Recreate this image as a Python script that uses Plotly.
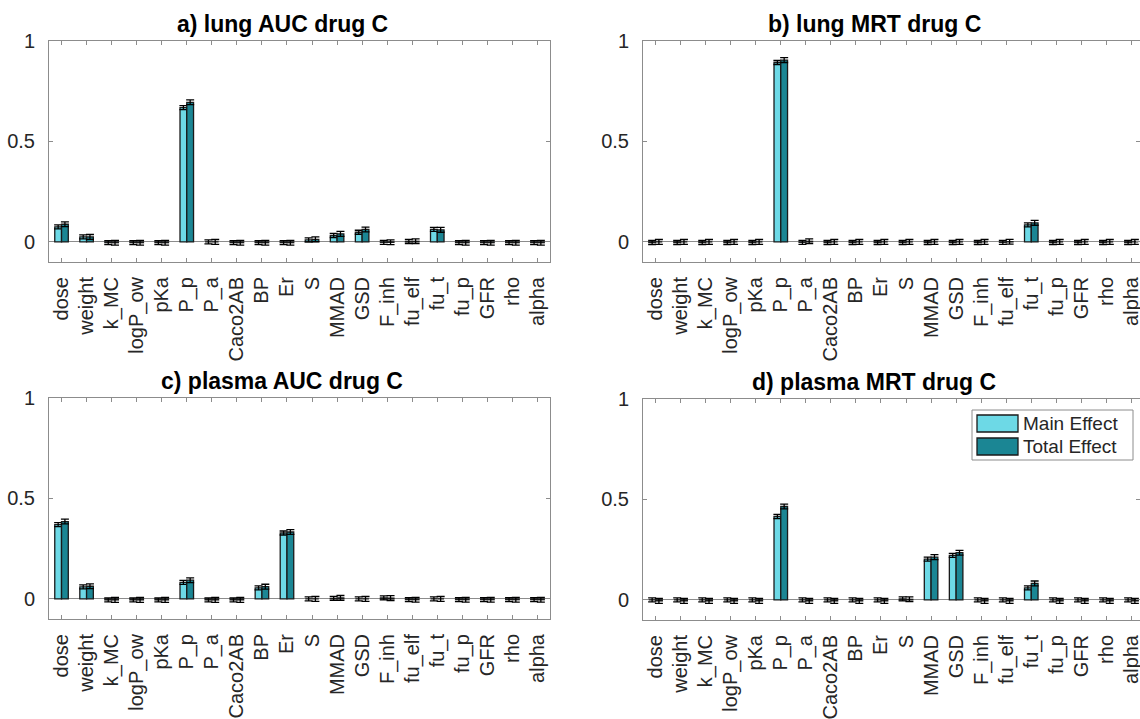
import plotly.graph_objects as go

params = ["dose", "weight", "k_MC", "logP_ow", "pKa", "P_p", "P_a", "Caco2AB", "BP", "Er",
          "S", "MMAD", "GSD", "F_inh", "fu_elf", "fu_t", "fu_p", "GFR", "rho", "alpha"]

titles = ["a) lung AUC drug C", "b) lung MRT drug C", "c) plasma AUC drug C", "d) plasma MRT drug C"]

# a) lung AUC
lung_auc_main = [0.075, 0.025, -0.004, -0.004, -0.004, 0.668, 0.0, -0.004, -0.004, -0.004,
                 0.010, 0.032, 0.048, -0.002, 0.002, 0.062, -0.004, -0.004, -0.004, -0.004]
lung_auc_total = [0.088, 0.025, -0.004, -0.004, -0.004, 0.695, 0.0, -0.004, -0.004, -0.004,
                  0.013, 0.040, 0.062, -0.002, 0.003, 0.060, -0.004, -0.004, -0.004, -0.004]
# b) lung MRT
lung_mrt_main = [-0.003, -0.003, -0.003, -0.003, -0.003, 0.893, -0.002, -0.003, -0.003, -0.003,
                 -0.003, -0.003, -0.003, -0.003, -0.002, 0.085, -0.003, -0.003, -0.003, -0.003]
lung_mrt_total = [0.0, 0.0, 0.0, 0.0, 0.0, 0.905, 0.003, 0.0, 0.0, 0.0,
                  0.0, 0.0, 0.0, 0.0, 0.001, 0.095, 0.0, 0.0, 0.0, 0.0]
# c) plasma AUC
plasma_auc_main = [0.370, 0.060, -0.005, -0.005, -0.005, 0.082, -0.005, -0.005, 0.055, 0.328,
                   0.0, 0.003, 0.0, 0.005, -0.004, 0.0, -0.004, -0.004, -0.004, -0.004]
plasma_auc_total = [0.385, 0.063, -0.005, -0.005, -0.005, 0.093, -0.005, -0.005, 0.061, 0.333,
                    0.0, 0.005, 0.0, 0.004, -0.004, 0.0, -0.004, -0.004, -0.004, -0.004]
# d) plasma MRT
plasma_mrt_main = [0.0, 0.0, 0.0, 0.0, 0.0, 0.415, 0.0, 0.0, 0.0, 0.0,
                   0.005, 0.203, 0.222, 0.0, 0.0, 0.060, 0.0, 0.0, 0.0, 0.0]
plasma_mrt_total = [-0.005, -0.005, -0.005, -0.005, -0.005, 0.465, -0.005, -0.005, -0.005, -0.005,
                    0.003, 0.213, 0.235, -0.005, -0.005, 0.082, -0.005, -0.005, -0.005, -0.005]

err_main = [0.010, 0.010, 0.010, 0.010]
err_total = [0.012, 0.012, 0.012, 0.012]

series_names = ["Main Effect", "Total Effect"]

mains = [lung_auc_main, lung_mrt_main, plasma_auc_main, plasma_mrt_main]
totals = [lung_auc_total, lung_mrt_total, plasma_auc_total, plasma_mrt_total]

main_color = "#6dd9e6"
total_color = "#1b8694"
FONT = "Liberation Sans, Arial, sans-serif"
EDGE = "#1a1a1a"

W, H = 1140, 719
# pixel boxes of each axes: (left, right, top, bottom)
boxes = [(49, 550, 41, 262), (643, 1140, 41, 262), (49, 550, 398, 619), (643, 1140, 399, 620)]
title_centers = [282, 874, 282, 874]

fig = go.Figure()
xcats = list(range(1, len(params) + 1))
for i in range(4):
    suffix = "" if i == 0 else str(i + 1)
    fig.add_trace(go.Bar(
        x=xcats, y=mains[i], name=series_names[0], showlegend=False,
        marker=dict(color=main_color, line=dict(color=EDGE, width=1.3)),
        error_y=dict(type="constant", value=err_main[i], color="#000000", thickness=1.3, width=4),
        xaxis="x" + suffix, yaxis="y" + suffix))
    fig.add_trace(go.Bar(
        x=xcats, y=totals[i], name=series_names[1], showlegend=False,
        marker=dict(color=total_color, line=dict(color=EDGE, width=1.3)),
        error_y=dict(type="constant", value=err_total[i], color="#000000", thickness=1.3, width=4),
        xaxis="x" + suffix, yaxis="y" + suffix))

layout = dict(
    width=W, height=H, autosize=False,
    margin=dict(l=0, r=0, t=0, b=0, pad=0),
    paper_bgcolor="white", plot_bgcolor="white",
    barmode="group", bargap=0.46, bargroupgap=0.0,
    font=dict(family=FONT, size=20, color="#262626"),
    showlegend=False,
)
annotations = []
shapes = []
for i, (l, r, t, b) in enumerate(boxes):
    suffix = "" if i == 0 else str(i + 1)
    xr = [0.5, 20.5] if r - l > 500 else [0.5, 0.5 + (r - l) / 25.05]
    layout["xaxis" + suffix] = dict(
        domain=[l / W, r / W], anchor="y" + suffix, range=xr,
        tickmode="array", tickvals=xcats, ticktext=params, tickangle=-90,
        ticks="inside", ticklen=4, tickcolor="#8c8c8c",
        showline=True, linecolor="#8c8c8c", linewidth=1, mirror="ticks",
        showgrid=False, zeroline=False, automargin=False,
        ticklabeloverflow="allow", ticklabelstandoff=6,
        tickfont=dict(family=FONT, size=20, color="#262626"))
    layout["yaxis" + suffix] = dict(
        domain=[1 - b / H, 1 - t / H], anchor="x" + suffix, range=[-0.1, 1.0],
        tickmode="array", tickvals=[0, 0.5, 1], ticktext=["0", "0.5", "1"],
        ticks="inside", ticklen=4, tickcolor="#8c8c8c",
        showline=True, linecolor="#8c8c8c", linewidth=1, mirror="ticks",
        showgrid=False, zeroline=True, zerolinecolor="#8c8c8c", zerolinewidth=1,
        automargin=False, ticklabelstandoff=9,
        tickfont=dict(family=FONT, size=20, color="#262626"))
    annotations.append(dict(
        text="<b>" + titles[i] + "</b>", xref="paper", yref="paper",
        x=title_centers[i] / W, y=1 - t / H,
        xanchor="center", yanchor="bottom", yshift=2, showarrow=False,
        font=dict(family=FONT, size=23, color="#000000")))

# legend box (drawn inside panel d)
lg_left, lg_right, lg_top, lg_bottom = 972, 1133, 410, 460
shapes.append(dict(type="rect", xref="paper", yref="paper",
                   x0=lg_left / W, x1=lg_right / W, y0=1 - lg_bottom / H, y1=1 - lg_top / H,
                   line=dict(color="#8c8c8c", width=1), fillcolor="white", layer="above"))
sw_rows = [(415, 432), (438, 455)]
for k, (y0, y1) in enumerate(sw_rows):
    shapes.append(dict(type="rect", xref="paper", yref="paper",
                       x0=977 / W, x1=1018 / W, y0=1 - y1 / H, y1=1 - y0 / H,
                       line=dict(color=EDGE, width=1.3),
                       fillcolor=[main_color, total_color][k], layer="above"))
    annotations.append(dict(text=series_names[k], xref="paper", yref="paper",
                            x=1021 / W, y=1 - (y0 + y1) / 2 / H, xanchor="left", yanchor="middle",
                            showarrow=False, font=dict(family=FONT, size=19, color="#262626")))

layout["annotations"] = annotations
layout["shapes"] = shapes
fig.update_layout(**layout)

fig.write_html("out.html", config={"displayModeBar": False},
               post_script="document.body.style.margin='0';document.body.style.overflow='hidden';")
